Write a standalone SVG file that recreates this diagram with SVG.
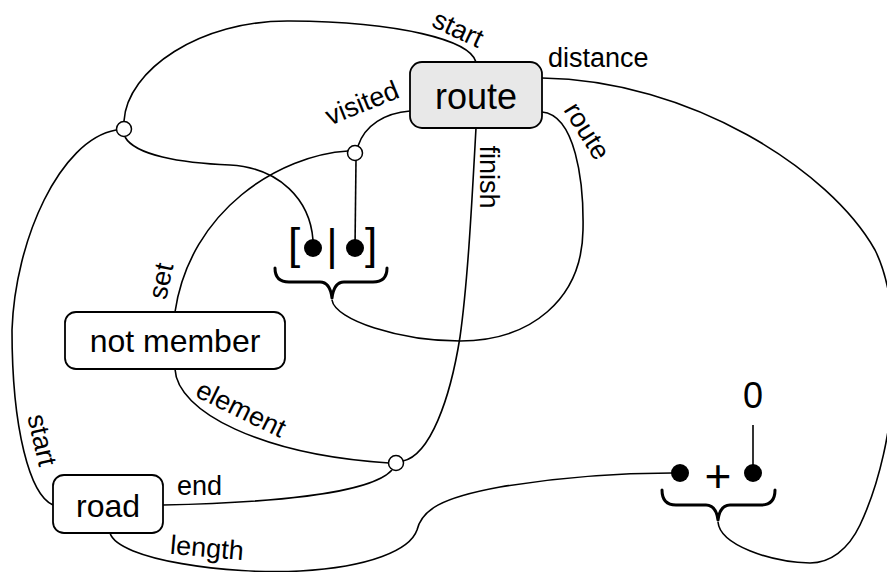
<svg xmlns="http://www.w3.org/2000/svg" width="887" height="572" viewBox="0 0 887 572">
<style>
.c{fill:none;stroke:#000;stroke-width:1.6}
.box{fill:#fff;stroke:#000;stroke-width:1.8}
.hub{fill:#fff;stroke:#000;stroke-width:1.5}
.dot{fill:#000}
.brace{fill:none;stroke:#000;stroke-width:3;stroke-linecap:round;stroke-linejoin:round}
text{font-family:"Liberation Sans",Arial,sans-serif;fill:#000}
.nt{font-size:32px;text-anchor:middle}
.lb{font-size:27px;text-anchor:middle}
.br{font-size:44px;text-anchor:middle}
</style>
<rect width="887" height="572" fill="#fff"/>
<g id="connectors">
<path class="c" d="M476,62 C470,40 400,22 290,21 C200,20 127,70 124,121"/>
<path class="c" d="M116,130 C60,140 15,240 12,330 C12,430 30,495 53,505"/>
<path class="c" d="M125,137 C135,155 180,163 230,165 C280,168 310,200 313,240"/>
<path class="c" d="M410,111 C385,113 365,125 358,146"/>
<path class="c" d="M348,151 C280,155 190,210 175,312"/>
<path class="c" d="M356,160 L355,248"/>
<path class="c" d="M542,112 C575,115 584,180 583,230 C582,300 530,341 460,341 C400,341 335,320 332,300"/>
<path class="c" d="M542,78 C690,80 830,170 875,250 C905,310 900,440 860,525 C848,550 830,563 810,563 C770,562 720,545 718,522"/>
<path class="c" d="M110,533 C118,560 230,575 300,571 C370,567 410,550 417,530 C422,510 440,498 500,487 C560,477 620,473 672,473"/>
<path class="c" d="M175,369 C177,412 262,455 389,463"/>
<path class="c" d="M163,505 C260,503 370,495 392,470"/>
<path class="c" d="M403,461 C430,455 450,400 460,337 C468,280 472,200 476,128"/>
<path class="c" d="M753,425 L753,473"/>
<text class="lb" transform="translate(458,29) rotate(25)" y="9">start</text>
<text class="lb" transform="translate(362,103) rotate(-22)" y="9">visited</text>
<text x="548" y="67" style="font-size:27px">distance</text>
<text class="lb" transform="translate(587,131) rotate(58)" y="9">route</text>
<text class="lb" transform="translate(489,177) rotate(90)" y="9">finish</text>
<text class="lb" transform="translate(161,281) rotate(-78)" y="9">set</text>
<text class="lb" transform="translate(42,440) rotate(77)" y="9">start</text>
<text class="lb" transform="translate(241,409) rotate(26)" y="9">element</text>
<text x="177" y="495" style="font-size:27px">end</text>
<text class="lb" transform="translate(207,548) rotate(5)" y="9">length</text>
</g>
<g id="route">
<rect x="410" y="62" width="132" height="66" rx="12" fill="#e8e8e8" stroke="#000" stroke-width="1.8"/>
<text x="476" y="109" style="font-size:36px;text-anchor:middle">route</text>
</g>
<g id="not-member">
<rect class="box" x="65" y="312" width="220" height="57" rx="11"/>
<text class="nt" x="175" y="352">not member</text>
</g>
<g id="road">
<rect class="box" x="53" y="475" width="110" height="58" rx="11"/>
<text class="nt" x="108" y="517">road</text>
</g>
<g id="hub1"><circle class="hub" cx="124" cy="129" r="7.5"/></g>
<g id="hub2"><circle class="hub" cx="355" cy="153" r="7.5"/></g>
<g id="hub3"><circle class="hub" cx="396" cy="463" r="7.5"/></g>
<g id="list-cons">
<text class="br" x="294" y="259">[</text>
<text class="br" x="332" y="260">|</text>
<text class="br" x="371" y="259">]</text>
<circle class="dot" cx="313" cy="248" r="9"/>
<circle class="dot" cx="355" cy="248" r="9"/>
<path class="brace" d="M275,268 Q275,282 289,282 L320,282 Q330,282 332,298 Q334,282 344,282 L373,282 Q387,282 387,268"/>
</g>
<g id="plus">
<text x="718" y="492" style="font-size:46px;text-anchor:middle">+</text>
<circle class="dot" cx="680" cy="473" r="9"/>
<circle class="dot" cx="753" cy="473" r="9"/>
<path class="brace" d="M662,490 Q662,505 676,505 L706,505 Q716,505 718,520 Q720,505 730,505 L761,505 Q775,505 775,490"/>
</g>
<g id="zero">
<text x="753" y="408" style="font-size:36px;text-anchor:middle">0</text>
</g>
</svg>
